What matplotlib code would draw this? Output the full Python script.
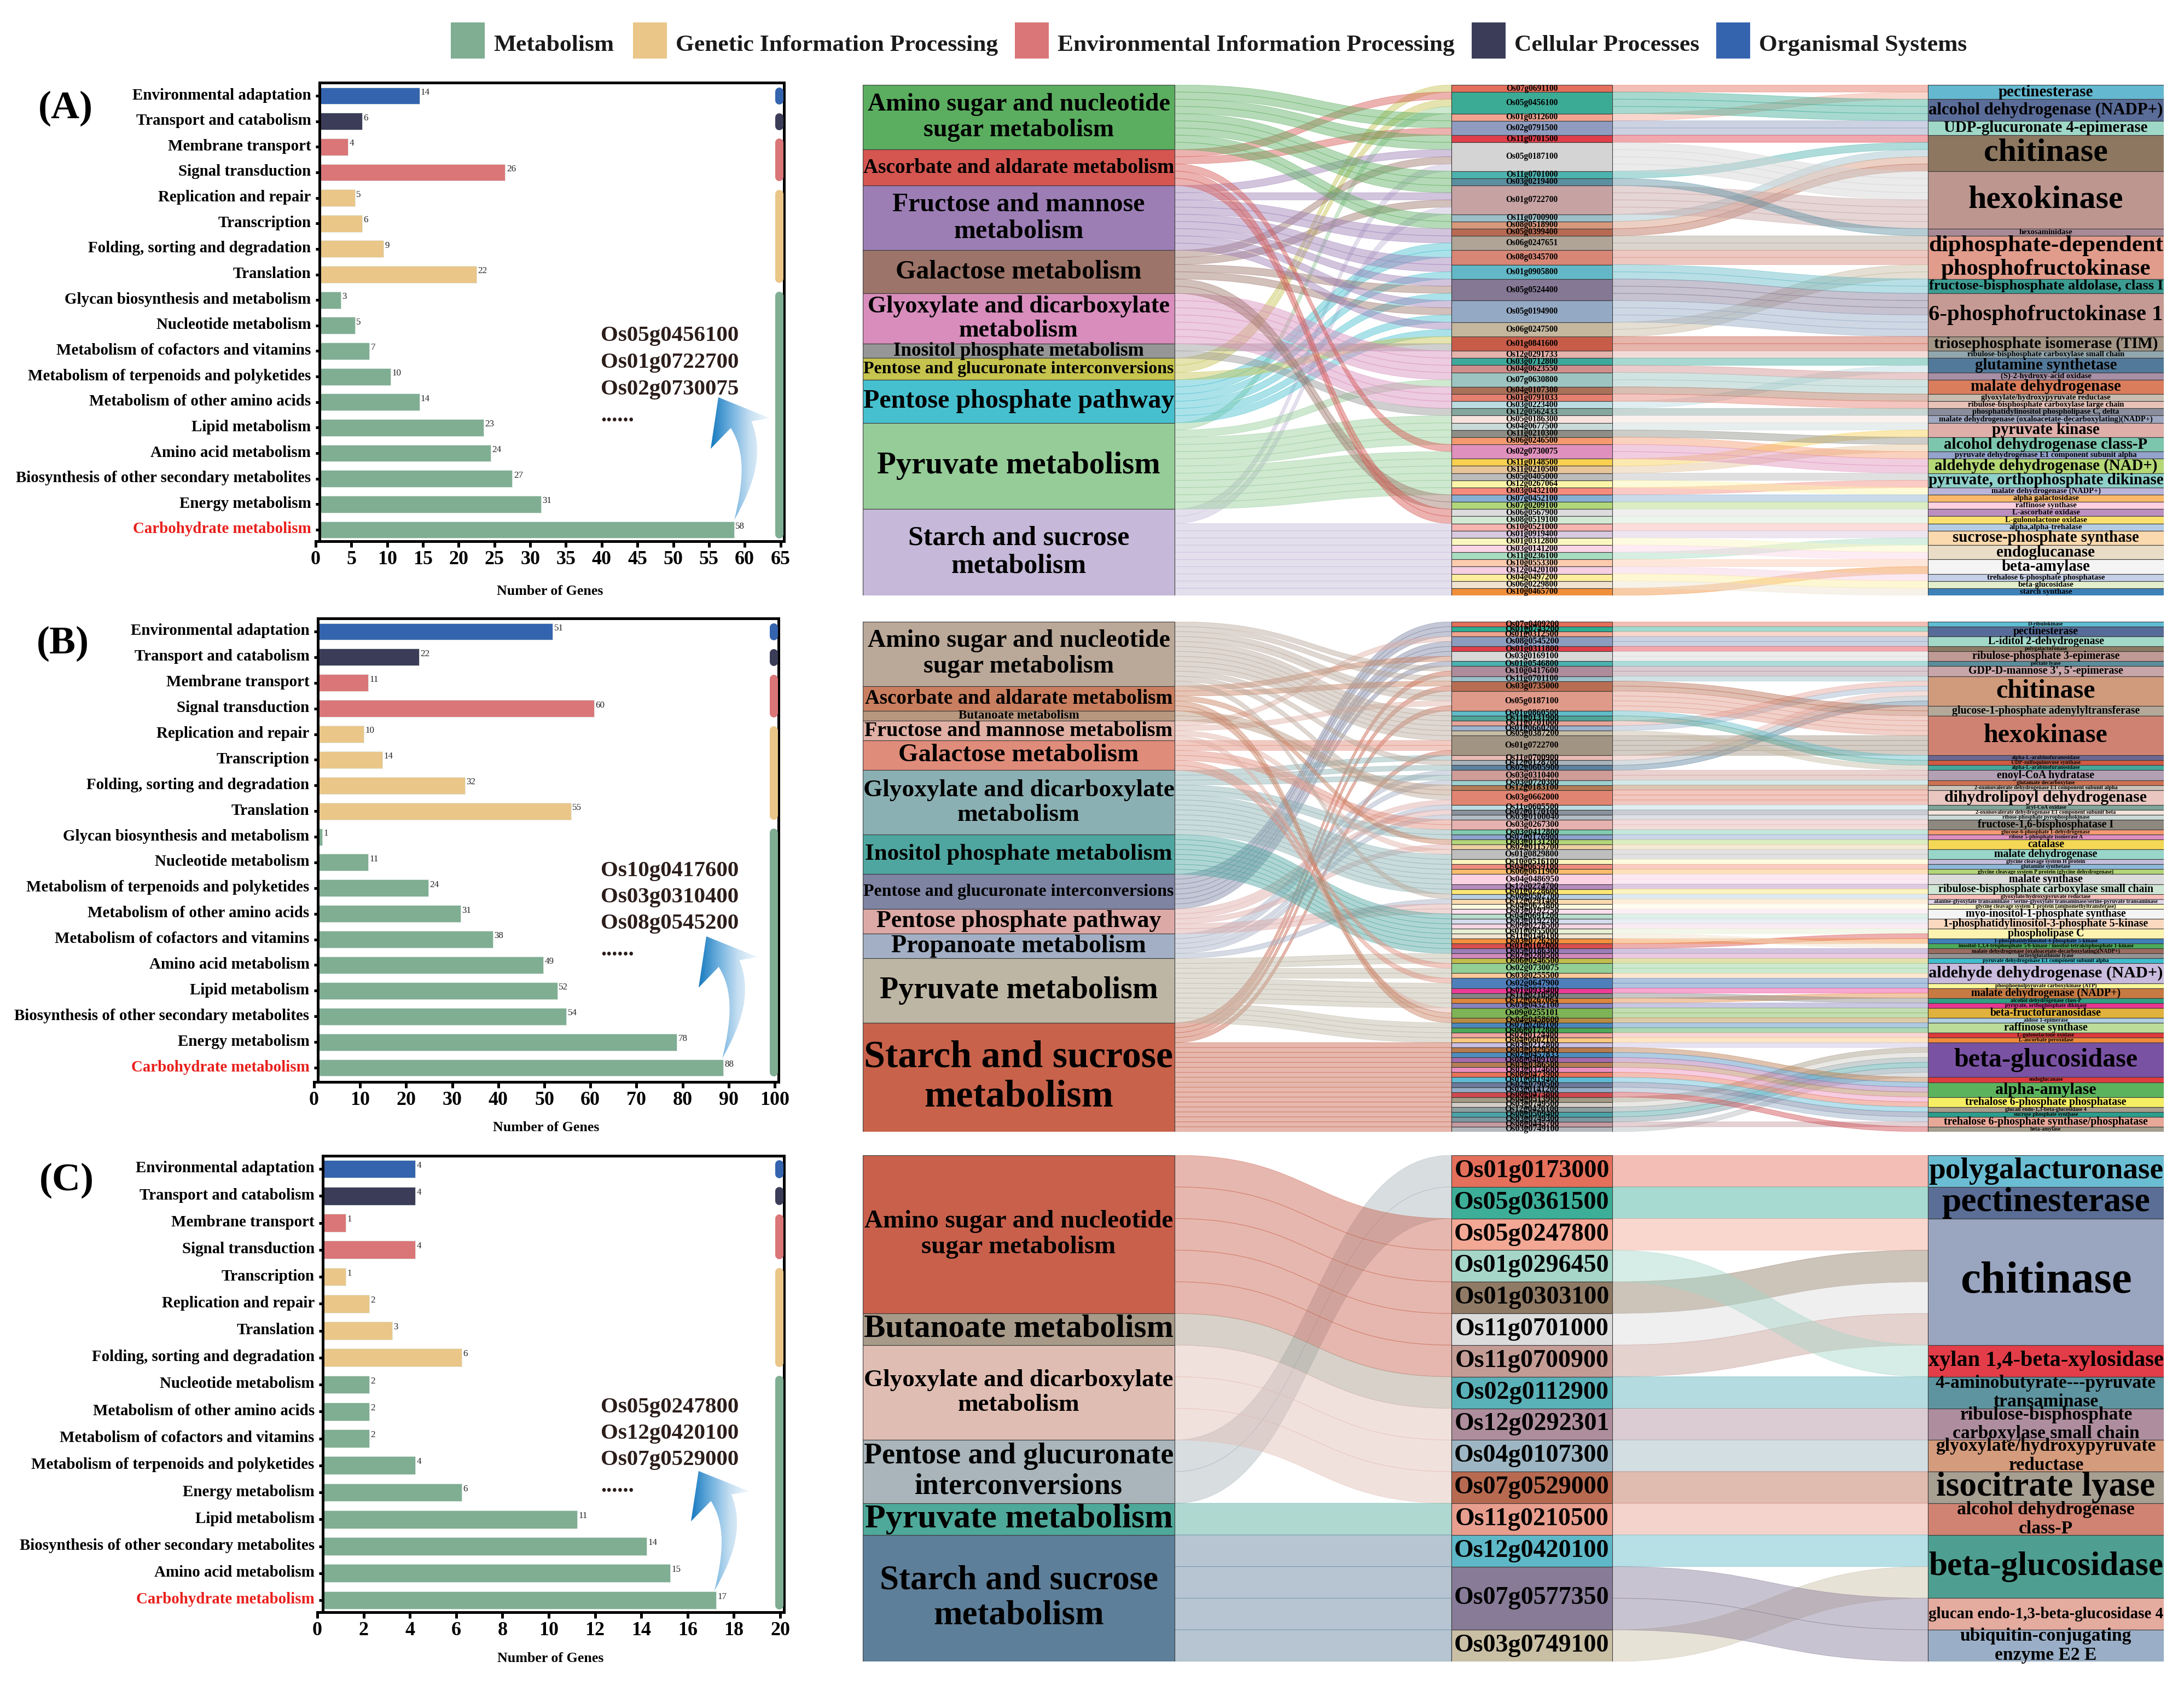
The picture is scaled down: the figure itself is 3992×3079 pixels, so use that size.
import numpy as np
import matplotlib
matplotlib.use("Agg")
import matplotlib.pyplot as plt
from matplotlib.path import Path
from matplotlib.patches import PathPatch, Rectangle
from matplotlib.colors import LinearSegmentedColormap
from matplotlib.transforms import ScaledTranslation

W, H = 3992, 3079
DPI = 100
plt.rcParams['font.family'] = ['Liberation Serif', 'DejaVu Serif']
plt.rcParams['font.weight'] = 'bold'

def pt(px):
    return px * 72 / DPI

# ---- bar chart data, listed top to bottom
CAT_COL = {"M": "#7FAE93", "G": "#EAC688", "E": "#DA7678", "C": "#3B3D58", "O": "#3464AE"}
legend_names = ["Metabolism", "Genetic Information Processing", "Environmental Information Processing",
                "Cellular Processes", "Organismal Systems"]
legend_cols = ["M", "G", "E", "C", "O"]

names_a = ["Environmental adaptation", "Transport and catabolism", "Membrane transport", "Signal transduction",
           "Replication and repair", "Transcription", "Folding, sorting and degradation", "Translation",
           "Glycan biosynthesis and metabolism", "Nucleotide metabolism", "Metabolism of cofactors and vitamins",
           "Metabolism of terpenoids and polyketides", "Metabolism of other amino acids", "Lipid metabolism",
           "Amino acid metabolism", "Biosynthesis of other secondary metabolites", "Energy metabolism",
           "Carbohydrate metabolism"]
vals_a = [14, 6, 4, 26, 5, 6, 9, 22, 3, 5, 7, 10, 14, 23, 24, 27, 31, 58]
cats_a = list("OCEEGGGGMMMMMMMMMM")

names_b = ["Environmental adaptation", "Transport and catabolism", "Membrane transport", "Signal transduction",
           "Replication and repair", "Transcription", "Folding, sorting and degradation", "Translation",
           "Glycan biosynthesis and metabolism", "Nucleotide metabolism", "Metabolism of terpenoids and polyketides",
           "Metabolism of other amino acids", "Metabolism of cofactors and vitamins", "Amino acid metabolism",
           "Lipid metabolism", "Biosynthesis of other secondary metabolites", "Energy metabolism",
           "Carbohydrate metabolism"]
vals_b = [51, 22, 11, 60, 10, 14, 32, 55, 1, 11, 24, 31, 38, 49, 52, 54, 78, 88]
cats_b = list("OCEEGGGGMMMMMMMMMM")

names_c = ["Environmental adaptation", "Transport and catabolism", "Membrane transport", "Signal transduction",
           "Transcription", "Replication and repair", "Translation", "Folding, sorting and degradation",
           "Nucleotide metabolism", "Metabolism of other amino acids", "Metabolism of cofactors and vitamins",
           "Metabolism of terpenoids and polyketides", "Energy metabolism", "Lipid metabolism",
           "Biosynthesis of other secondary metabolites", "Amino acid metabolism", "Carbohydrate metabolism"]
vals_c = [4, 4, 1, 4, 1, 2, 3, 6, 2, 2, 2, 4, 6, 11, 14, 15, 17]
cats_c = list("OCEEGGGGMMMMMMMMM")

hub_a = ["Os05g0456100", "Os01g0722700", "Os02g0730075"]
hub_b = ["Os10g0417600", "Os03g0310400", "Os08g0545200"]
hub_c = ["Os05g0247800", "Os12g0420100", "Os07g0529000"]

# ---- sankey A
left_a = ["Amino sugar and nucleotide\nsugar metabolism", "Ascorbate and aldarate metabolism",
          "Fructose and mannose\nmetabolism", "Galactose metabolism", "Glyoxylate and dicarboxylate\nmetabolism",
          "Inositol phosphate metabolism", "Pentose and glucuronate interconversions", "Pentose phosphate pathway",
          "Pyruvate metabolism", "Starch and sucrose\nmetabolism"]
left_units_a = [9, 5, 9, 6, 7, 2, 3, 6, 12, 12]
left_cols_a = ["#5BAE60", "#D55650", "#9C7EB5", "#9D7469", "#D88DBC", "#969696", "#C6C34E", "#46C0CF", "#95CC98", "#C5B8D8"]
gene_a = ["Os07g0691100", "Os05g0456100", "Os01g0312600", "Os02g0791500", "Os11g0701500", "Os05g0187100", "Os11g0701000",
          "Os03g0219400", "Os01g0722700", "Os11g0700900", "Os08g0518900", "Os05g0399400", "Os06g0247651", "Os08g0345700",
          "Os01g0905800", "Os05g0524400", "Os05g0194900", "Os06g0247500", "Os01g0841600", "Os12g0291733", "Os03g0712800",
          "Os04g0623550", "Os07g0630800", "Os04g0107300", "Os01g0791033", "Os03g0223400", "Os12g0562433", "Os05g0186300",
          "Os04g0677500", "Os11g0210300", "Os06g0246500", "Os02g0730075", "Os11g0148500", "Os11g0210500", "Os05g0405000",
          "Os12g0267064", "Os03g0432100", "Os07g0452100", "Os07g0209100", "Os06g0567900", "Os08g0519100", "Os10g0521000",
          "Os01g0919400", "Os01g0312800", "Os03g0141200", "Os11g0236100", "Os10g0553300", "Os12g0420100", "Os04g0497200",
          "Os06g0229800", "Os10g0465700"]
gene_units_a = [1, 3, 1, 2, 1, 4, 1, 1, 4, 1, 1, 1, 2, 2, 2, 3, 3, 2, 2, 1, 1, 1, 2, 1, 1, 1, 1, 1, 1, 1, 1, 2, 1, 1, 1, 1,
                1, 1, 1, 1, 1, 1, 1, 1, 1, 1, 1, 1, 1, 1, 1]
gene_cols_a = ["#E46F5B", "#3CAB95", "#F2A490", "#8F9CBF", "#DF3F4A", "#D4D4D4", "#4DB3AF", "#5B8FA0", "#C6A2A2", "#9CBFC8",
               "#D8987C", "#B86A52", "#AFA496", "#D88676", "#62B8C6", "#847895", "#94A9C4", "#C4B79E", "#C95C48", "#E4B3AC",
               "#3DA99C", "#D08F8C", "#9DC4C0", "#AA7058", "#E57F6F", "#BADBE0", "#85A89E", "#F7E4DE", "#CADAD8", "#8E8E86",
               "#F59A70", "#E090BC", "#F9D050", "#E6C59A", "#BBBBBB", "#FBF4A8", "#F68C7E", "#88B0D4", "#B2D77A", "#DCDCDC",
               "#D4E9D4", "#F7B4B0", "#D9C9E0", "#FBF7C0", "#FBD6E6", "#A8DCC0", "#FDCBAE", "#F6CFE2", "#FDEE9E", "#EFE3CF",
               "#F18F3B"]
enz_a = ["pectinesterase", "alcohol dehydrogenase (NADP+)", "UDP-glucuronate 4-epimerase", "chitinase", "hexokinase",
         "hexosaminidase", "diphosphate-dependent\nphosphofructokinase", "fructose-bisphosphate aldolase, class I",
         "6-phosphofructokinase 1", "triosephosphate isomerase (TIM)", "ribulose-bisphosphate carboxylase small chain",
         "glutamine synthetase", "(S)-2-hydroxy-acid oxidase", "malate dehydrogenase", "glyoxylate/hydroxypyruvate reductase",
         "ribulose-bisphosphate carboxylase large chain", "phosphatidylinositol phospholipase C, delta",
         "malate dehydrogenase (oxaloacetate-decarboxylating)(NADP+)", "pyruvate kinase", "alcohol dehydrogenase class-P",
         "pyruvate dehydrogenase E1 component subunit alpha", "aldehyde dehydrogenase (NAD+)", "pyruvate, orthophosphate dikinase",
         "malate dehydrogenase (NADP+)", "alpha galactosidase", "raffinose synthase", "L-ascorbate oxidase",
         "L-gulonolactone oxidase", "alpha,alpha-trehalase", "sucrose-phosphate synthase", "endoglucanase", "beta-amylase",
         "trehalose 6-phosphate phosphatase", "beta-glucosidase", "starch synthase"]
enz_units_a = [2, 3, 2, 5, 8, 1, 6, 2, 6, 2, 1, 2, 1, 2, 1, 1, 1, 1, 2, 2, 1, 2, 2, 1, 1, 1, 1, 1, 1, 2, 2, 2, 1, 1, 1]
enz_cols_a = ["#64B8D0", "#5A6C98", "#A0D8C8", "#8D7760", "#BE9690", "#A88A96", "#E19C8C", "#3C9C92", "#C69A94", "#A39585",
              "#91A7AD", "#53799A", "#A88FA5", "#D97D5C", "#C9BDB0", "#E8C2B8", "#8A8E9C", "#9FA8C0", "#DFAFAA", "#7DC6AE",
              "#94A3CC", "#B5D877", "#8FD0C9", "#BBB5DA", "#F8B96A", "#FBD0DF", "#BC8FC0", "#FBE270", "#B5CCE4", "#FBD9AE",
              "#EADDC8", "#F4F4F4", "#C5D0E8", "#E3EFCC", "#3E82B8"]
# pathway of each gene unit, from the top of the middle column down
path_a = [6, 1, 6, 8, 0, 0, 1, 0, 0, 2, 3, 9, 0, 0, 0, 2, 3, 9, 0, 0, 2, 2, 7, 7, 2, 2, 7, 2, 3, 7, 2, 3, 7, 2, 7, 6, 5,
          4, 4, 4, 4, 8, 4, 4, 4, 5, 8, 8, 8, 8, 1, 8, 8, 8, 8, 8, 8, 3, 3, 1, 1, 9, 9, 9, 9, 9, 9, 9, 9, 9, 9]
# gene units in the order they enter the enzyme column
order_a = [0, 4, 1, 2, 3, 5, 6, 7, 12, 18, 19, 20, 8, 9, 10, 11, 14, 15, 16, 17, 13, 21, 22, 23, 24, 33, 34, 25, 26, 27, 28,
           29, 30, 31, 32, 35, 36, 37, 38, 44, 39, 40, 41, 42, 43, 45, 46, 47, 52, 48, 53, 49, 50, 51, 54, 56, 55, 57, 58,
           59, 60, 61, 62, 65, 63, 64, 66, 70, 67, 68, 69]

# ---- sankey B
left_b = ["Amino sugar and nucleotide\nsugar metabolism", "Ascorbate and aldarate metabolism", "Butanoate metabolism",
          "Fructose and mannose metabolism", "Galactose metabolism", "Glyoxylate and dicarboxylate\nmetabolism",
          "Inositol phosphate metabolism", "Pentose and glucuronate interconversions", "Pentose phosphate pathway",
          "Propanoate metabolism", "Pyruvate metabolism", "Starch and sucrose\nmetabolism"]
left_units_b = [13, 5, 2, 4, 6, 13, 8, 7, 5, 5, 13, 22]
left_cols_b = ["#BAA899", "#C97F5F", "#B8977F", "#E0B0A5", "#E08C7A", "#8BB0B3", "#4FA6A0", "#7E84A2", "#DDA9A6", "#A3AFC4",
               "#BEB6A4", "#C8624A"]
gene_b = ["Os07g0409200", "Os01g0743200", "Os01g0312500", "Os08g0545200", "Os01g0311800", "Os03g0169100", "Os01g0546800",
          "Os10g0417600", "Os11g0701100", "Os03g0735000", "Os05g0187100", "Os01g0860500", "Os11g0131900", "Os11g0701000",
          "Os01g0660200", "Os05g0387200", "Os01g0722700", "Os11g0700900", "Os12g0128700", "Os02g0605900", "Os03g0310400",
          "Os03g0720300", "Os12g0183100", "Os03g0662000", "Os11g0605500", "Os07g0170100", "Os03g0100040", "Os03g0267300",
          "Os03g0412800", "Os07g0176900", "Os03g0131200", "Os02g0115700", "Os01g0829800", "Os10g0516100", "Os04g0659100",
          "Os06g0611900", "Os04g0486950", "Os12g0274700", "Os01g0228600", "Os08g0502700", "Os12g0291400", "Os04g0623800",
          "Os03g0192750", "Os04g0691200", "Os03g0192700", "Os09g0278500", "Os01g0955000", "Os11g0146100", "Os03g0726200",
          "Os01g0102000", "Os05g0186300", "Os02g0280500", "Os06g0246500", "Os02g0730075", "Os03g0255500", "Os02g0647900",
          "Os01g0933400", "Os11g0210500", "Os12g0267064", "Os03g0432100", "Os09g0255101", "Os04g0458600", "Os07g0209100",
          "Os06g0172800", "Os02g0124400", "Os04g0602100", "Os03g0212800", "Os03g0329500", "Os02g0457833", "Os08g0409100",
          "Os03g0386500", "Os03g0374600", "Os08g0473900", "Os01g0919400", "Os02g0790500", "Os03g0141200", "Os08g0473800",
          "Os04g0513900", "Os03g0749500", "Os12g0420100", "Os08g0509400", "Os03g0749300", "Os08g0445700", "Os03g0749100"]
gene_units_b = [1, 1, 1, 2, 1, 2, 1, 2, 1, 2, 4, 1, 1, 1, 1, 1, 4, 1, 1, 1, 2, 1, 1, 3, 1, 1, 1, 2, 1, 1, 1, 1, 2, 1, 1, 1,
                2, 1, 1, 1, 1, 1, 1, 1, 1, 1, 1, 1, 1, 1, 1, 1, 1, 2, 1, 2, 1, 1, 1, 1, 2, 1, 1, 1, 1, 1, 1, 1, 1, 1, 1, 1,
                1, 1, 1, 1, 1, 1, 1, 1, 1, 1, 1, 1]
gene_cols_b = ["#E4705C", "#2FAE94", "#F0A48E", "#8D9DBF", "#E0404A", "#D8D8D8", "#4AB2B0", "#AE8C9B", "#9ABFC9", "#B86E53",
               "#E09A8A", "#5FBCC8", "#4FA598", "#E5A49A", "#9FB4CC", "#C7BCA5", "#A29482", "#E7BAB2", "#A7B4BC", "#5E83A0",
               "#CF9C98", "#9ECFCF", "#B47C58", "#E28472", "#BCDDE3", "#8B929E", "#B5BCC5", "#E6B2B0", "#80CBB0", "#8EA3CD",
               "#B3D67B", "#EDCFA2", "#BEBEBE", "#FBF6BE", "#F08E7E", "#F9BD6C", "#FAD2E4", "#B58CBD", "#FBE675", "#B9CFE4",
               "#FADAB0", "#FDFBE0", "#FAE0EC", "#B8DECC", "#D5DBEC", "#F5D5E4", "#E6EFD2", "#F2E4D0", "#F29040", "#D9504E",
               "#9B7EB8", "#D28ABD", "#C2BE4E", "#92CF95", "#FDC99A", "#4F7FBA", "#EE3C96", "#868686", "#E0853E", "#8984BD",
               "#7EB356", "#B68B42", "#4C88BE", "#4FA858", "#F0A6A0", "#FBC87F", "#CBBFE0", "#B87B4E", "#4F8FC0", "#A56BAA",
               "#B57E55", "#EC8FBE", "#E8735A", "#5FBBD3", "#6C7A9E", "#95ABC5", "#CF4A50", "#A59A84", "#D2CEC6", "#8F9FA0",
               "#4AA3A6", "#7E98A2", "#C49AA0", "#B5B8BC"]
enz_b = ["D-ribulokinase", "pectinesterase", "L-iditol 2-dehydrogenase", "polygalacturonase", "ribulose-phosphate 3-epimerase",
         "pectate lyase", "GDP-D-mannose 3', 5'-epimerase", "chitinase", "glucose-1-phosphate adenylyltransferase", "hexokinase",
         "alpha-L-arabinofuranosidase", "UDP-sulfoquinovose synthase", "alpha-L-arabinofuranosidase", "enoyl-CoA hydratase",
         "glutamate decarboxylase", "2-oxoisovalerate dehydrogenase E1 component subunit alpha", "dihydrolipoyl dehydrogenase",
         "acyl-CoA oxidase", "2-oxoisovalerate dehydrogenase E1 component subunit beta", "ribose-phosphate pyrophosphokinase",
         "fructose-1,6-bisphosphatase I", "glucose-6-phosphate 1-dehydrogenase", "ribose 5-phosphate isomerase A", "catalase",
         "malate dehydrogenase", "glycine cleavage system H protein", "glutamine synthetase",
         "glycine cleavage system P protein (glycine dehydrogenase)", "malate synthase",
         "ribulose-bisphosphate carboxylase small chain", "glyoxylate/hydroxypyruvate reductase",
         "alanine-glyoxylate transaminase / serine-glyoxylate transaminase/serine-pyruvate transaminase",
         "glycine cleavage system T protein (aminomethyltransferase)", "myo-inositol-1-phosphate synthase",
         "1-phosphatidylinositol-3-phosphate 5-kinase", "phospholipase C", "1-phosphatidylinositol-4-phosphate 5-kinase",
         "inositol-1,3,4-trisphosphate 5/6-kinase / inositol-tetrakisphosphate 1-kinase",
         "malate dehydrogenase (oxaloacetate-decarboxylating)(NADP+)", "lactoylglutathione lyase",
         "pyruvate dehydrogenase E1 component subunit alpha", "aldehyde dehydrogenase (NAD+)",
         "phosphoenolpyruvate carboxykinase (ATP)", "malate dehydrogenase (NADP+)", "alcohol dehydrogenase class-P",
         "pyruvate, orthophosphate dikinase", "beta-fructofuranosidase", "aldose 1-epimerase", "raffinose synthase",
         "L-gulonolactone oxidase", "L-ascorbate peroxidase", "beta-glucosidase", "endoglucanase", "alpha-amylase",
         "trehalose 6-phosphate phosphatase", "glucan endo-1,3-beta-glucosidase 4", "sucrose phosphate synthase",
         "trehalose 6-phosphate synthase/phosphatase", "beta-amylase"]
enz_units_b = [1, 2, 2, 1, 2, 1, 2, 6, 2, 8, 1, 1, 1, 2, 1, 1, 3, 1, 1, 1, 2, 1, 1, 2, 2, 1, 1, 1, 2, 2, 1, 1, 1, 2, 2, 2, 1,
               1, 1, 1, 1, 4, 1, 2, 1, 1, 2, 1, 2, 1, 1, 7, 1, 3, 2, 1, 1, 2, 1]
enz_cols_b = ["#5FBDD3", "#566B97", "#A3D9C8", "#8D7A62", "#C09A95", "#5A8E9C", "#C7A5A8", "#D09A7C", "#B4A898", "#D08272",
              "#6B6892", "#CF5A45", "#45A89C", "#B3A0B4", "#CE7252", "#CCC3B8", "#E9C7C0", "#7FA49A", "#F3E5DC", "#CBDAD8",
              "#8D8980", "#F59A72", "#DE8FBF", "#F4D755", "#97D6C9", "#C4BEDC", "#8EB8D8", "#B3D679", "#DCDCDC", "#CFE6D4",
              "#FAC0BA", "#E0D4E6", "#FBF8C6", "#F4F4F4", "#FBD9C0", "#FDF3B0", "#3F80B8", "#4CAB5A", "#9B6C60", "#949494",
              "#3FBECF", "#C8BBDD", "#FBF59C", "#C77A42", "#2FA184", "#E8368F", "#E0B23D", "#B0D0E2", "#BCDD9A", "#DE3B3B",
              "#F08A3C", "#7A52A3", "#E03B3E", "#5CB35D", "#F5EE63", "#A89E8E", "#2B9E8C", "#E8A898", "#A59E8E"]
path_b = [7, 7, 7, 3, 7, 7, 7, 1, 7, 0, 11, 0, 1, 11, 0, 0, 3, 11, 0, 0, 0, 0, 0, 0, 4, 4, 11, 5, 0, 5, 9, 5, 9, 2, 2, 0, 8,
          9, 8, 9, 4, 4, 5, 5, 1, 8, 3, 5, 5, 5, 5, 5, 5, 5, 5, 0, 9, 8, 8, 6, 6, 6, 6, 6, 6, 6, 6, 10, 10, 4, 10, 10, 4, 10,
          10, 10, 10, 10, 3, 1, 1, 10, 10, 10, 10, 11, 11, 11, 11, 11, 11, 11, 11, 11, 11, 11, 11, 11, 11, 11, 11, 11, 11]
order_b = [0, 1, 2, 3, 4, 5, 6, 7, 8, 9, 10, 11, 20, 21, 27, 28, 29, 12, 13, 14, 15, 16, 17, 23, 24, 25, 26, 18, 19, 22, 30,
           31, 32, 33, 34, 35, 36, 37, 38, 39, 40, 41, 42, 43, 44, 45, 46, 47, 48, 49, 50, 51, 52, 53, 54, 55, 56, 57, 58,
           59, 60, 61, 62, 65, 64, 63, 66, 67, 68, 69, 70, 71, 72, 73, 74, 76, 75, 77, 78, 79, 80, 81, 82, 83, 84, 85, 96,
           97, 98, 99, 100, 102, 86, 87, 88, 89, 90, 91, 92, 93, 94, 101, 95]

# ---- sankey C
left_c = ["Amino sugar and nucleotide\nsugar metabolism", "Butanoate metabolism", "Glyoxylate and dicarboxylate\nmetabolism",
          "Pentose and glucuronate\ninterconversions", "Pyruvate metabolism", "Starch and sucrose\nmetabolism"]
left_units_c = [5, 1, 3, 2, 1, 4]
left_cols_c = ["#C8604C", "#A89A88", "#E0BDB2", "#A9B5BB", "#4FA99A", "#5E7F9A"]
gene_c = ["Os01g0173000", "Os05g0361500", "Os05g0247800", "Os01g0296450", "Os01g0303100", "Os11g0701000", "Os11g0700900",
          "Os02g0112900", "Os12g0292301", "Os04g0107300", "Os07g0529000", "Os11g0210500", "Os12g0420100", "Os07g0577350",
          "Os03g0749100"]
gene_units_c = [1, 1, 1, 1, 1, 1, 1, 1, 1, 1, 1, 1, 1, 2, 1]
gene_cols_c = ["#E46F5B", "#3DAE98", "#F2A894", "#A6D6C8", "#8F7A65", "#DCDCDC", "#C49C96", "#5AB1B8", "#AE8E9C", "#9EB6C3",
               "#B86A50", "#E89E8E", "#5FB8C8", "#877B97", "#C9BFA5"]
enz_c = ["polygalacturonase", "pectinesterase", "chitinase", "xylan 1,4-beta-xylosidase",
         "4-aminobutyrate---pyruvate\ntransaminase", "ribulose-bisphosphate\ncarboxylase small chain",
         "glyoxylate/hydroxypyruvate\nreductase", "isocitrate lyase", "alcohol dehydrogenase\nclass-P", "beta-glucosidase",
         "glucan endo-1,3-beta-glucosidase 4", "ubiquitin-conjugating\nenzyme E2 E"]
enz_units_c = [1, 1, 4, 1, 1, 1, 1, 1, 1, 2, 1, 1]
enz_cols_c = ["#6BBDD3", "#5A6E96", "#9AA5C0", "#E23D48", "#5E94A0", "#AE8E9E", "#D49B7C", "#A79F92", "#D08372", "#4E9F91",
              "#E4AB9F", "#9AAFC7"]
path_c = [3, 3, 0, 0, 0, 0, 0, 1, 2, 2, 2, 4, 5, 5, 5, 5]
order_c = [0, 1, 2, 4, 5, 6, 3, 7, 8, 9, 10, 11, 12, 15, 13, 14]

# ---- layout, in pixels of the full picture
X_LEFT, X_RIGHT = 1577, 3955
COL_L = (1577, 2147)
COL_M = (2653, 2947)
COL_R = (3524, 3955)
left_caps_a = [46, 38, 48, 48, 44, 35, 32, 48, 57, 50]
left_caps_b = [46, 37, 23, 38, 47, 46, 43, 32, 44, 46, 56, 70]
left_caps_c = [47, 59, 45, 54, 62, 63]

fig = plt.figure(figsize=(W / DPI, H / DPI), dpi=DPI, facecolor="white")
renderer = fig.canvas.get_renderer()


def add_px_axes(x0, y0, x1, y1):
    return fig.add_axes([x0 / W, 1 - y1 / H, (x1 - x0) / W, (y1 - y0) / H])


def fit_label(ax, x, y, label, size_px, max_w):
    t = ax.text(x, y, label, ha="center", va="center", fontsize=pt(size_px), color="black", zorder=5,
                linespacing=1.15, fontweight="bold")
    w = t.get_window_extent(renderer).width
    if w > max_w:
        t.set_fontsize(pt(size_px) * max_w / w)
    return t


def ribbon(ax, x0, x1, y0, y1, col):
    xm = (x0 + x1) / 2
    verts = [(x0, y0), (xm, y0), (xm, y1), (x1, y1), (x1, y1 + 1), (xm, y1 + 1), (xm, y0 + 1), (x0, y0 + 1), (x0, y0)]
    codes = [Path.MOVETO, Path.CURVE4, Path.CURVE4, Path.CURVE4, Path.LINETO, Path.CURVE4, Path.CURVE4, Path.CURVE4,
             Path.CLOSEPOLY]
    ax.add_patch(PathPatch(Path(verts, codes), fc=col, ec=col, lw=0.7, alpha=0.45, zorder=1))


def sankey(y0, y1, lefts, left_units, left_cols, left_caps, genes, gene_units, gene_cols, enz, enz_units, enz_cols,
           path, order, gene_px, enz_cap):
    ax = add_px_axes(X_LEFT, y0, X_RIGHT, y1)
    total = sum(gene_units)
    ax.set_xlim(X_LEFT, X_RIGHT)
    ax.set_ylim(total, 0)
    ax.axis("off")
    unit_px = (y1 - y0) / total

    unit_col = []
    for col, n in zip(gene_cols, gene_units):
        unit_col += [col] * n

    # stack the flows on each side
    starts = np.concatenate([[0], np.cumsum(left_units)[:-1]])
    pos = list(starts)
    for u, p in enumerate(path):
        ribbon(ax, COL_L[1], COL_M[0], pos[p], u, left_cols[p])
        pos[p] += 1
    for r, u in enumerate(order):
        ribbon(ax, COL_M[1], COL_R[0], u, r, unit_col[u])

    # node columns
    for col_x, units, cols in ((COL_L, left_units, left_cols), (COL_M, gene_units, gene_cols), (COL_R, enz_units, enz_cols)):
        bottoms = np.concatenate([[0], np.cumsum(units)[:-1]])
        ax.bar([col_x[0]] * len(units), units, width=col_x[1] - col_x[0], bottom=bottoms, align="edge", color=cols,
               edgecolor="#3a3a3a", linewidth=0.8, zorder=3)

    xc = sum(COL_L) / 2
    for name, n, b, cap in zip(lefts, left_units, starts, left_caps):
        fit_label(ax, xc, b + n / 2, name, cap, COL_L[1] - COL_L[0] - 2)
    xc = sum(COL_M) / 2
    b = 0
    for name, n in zip(genes, gene_units):
        fit_label(ax, xc, b + n / 2, name, gene_px, 294)
        b += n
    xc = sum(COL_R) / 2
    b = 0
    for name, n in zip(enz, enz_units):
        lines = name.count("\n") + 1
        size = min(n * unit_px * (1.1 if lines == 1 else 0.58), enz_cap)
        fit_label(ax, xc, b + n / 2, name, size, COL_R[1] - COL_R[0] - 2)
        b += n
    return ax


def bars(box, tick0, px_per_unit, off, step, y_first, y_last, names, vals, cats, xlabel_y, x_max_tick):
    x1 = box[2]
    y0, y1 = box[1], box[3]
    ax = add_px_axes(tick0, y0, x1, y1)
    xmax = (x1 - tick0) / px_per_unit
    n = len(names)
    spacing = (y_last - y_first) / (n - 1)
    ax.set_xlim(0, xmax)
    ax.set_ylim(-(y1 - y_last) / spacing, n - 1 + (y_first - y0) / spacing)
    ys = np.arange(n)[::-1]
    ax.barh(ys, vals, left=off, height=0.66, color=[CAT_COL[c] for c in cats], edgecolor="#dfe8e2", linewidth=0.6, zorder=2)
    for y, v in zip(ys, vals):
        ax.text(off + v + 2.5 / px_per_unit, y + 0.13, str(v), fontsize=pt(17), fontweight="normal", va="center", ha="left",
                color="#222222")

    # category strip on the right edge
    strip_x = xmax - 9 / px_per_unit
    cap = 7.5 / spacing
    seen = []
    for c in cats:
        if c not in seen:
            seen.append(c)
    for c in seen:
        idx = [i for i, k in enumerate(cats) if k == c]
        hi, lo = ys[idx[0]] + 0.33 - cap, ys[idx[-1]] - 0.33 + cap
        ax.plot([strip_x, strip_x], [lo, hi], color=CAT_COL[c], lw=pt(15), solid_capstyle="round", zorder=3)

    for s in ax.spines.values():
        s.set_linewidth(pt(5))
    ax.spines["left"].set_position(("data", off))
    ax.spines["top"].set_bounds(off, xmax)
    ax.set_yticks(ys)
    ax.set_yticklabels(names, fontsize=pt(29))
    ax.get_yticklabels()[-1].set_color("#E8201C")
    ax.set_xticks(np.arange(0, x_max_tick + 1, step))
    ax.tick_params(axis="x", length=8, width=pt(5), labelsize=pt(36), pad=4)
    ax.tick_params(axis="y", length=5, width=pt(5), pad=6)
    # labels sit a little above their tick marks
    lift = ScaledTranslation(0, 4 / DPI, fig.dpi_scale_trans)
    for lab in ax.get_yticklabels():
        lab.set_transform(lab.get_transform() + lift)
    ax.set_xlabel("Number of Genes", fontsize=pt(26), fontweight="bold")
    ax.xaxis.set_label_coords(0.5, -(xlabel_y - y1) / (y1 - y0))
    return ax


bars((584, 151, 1433, 989), 577, 13.07, 0.5, 5, 175, 968, names_a, vals_a, cats_a, 1069, 65)
bars((581, 1130, 1423, 1977), 574, 8.42, 0.8, 10, 1154, 1951, names_b, vals_b, cats_b, 2049, 100)
bars((590, 2112, 1433, 2946), 580, 42.3, 0.24, 2, 2136, 2924, names_c, vals_c, cats_c, 3019, 20)

sankey(155, 1088, left_a, left_units_a, left_cols_a, left_caps_a, gene_a, gene_units_a, gene_cols_a, enz_a, enz_units_a,
       enz_cols_a, path_a, order_a, 15.5, 60)
sankey(1136, 2068, left_b, left_units_b, left_cols_b, left_caps_b, gene_b, gene_units_b, gene_cols_b, enz_b, enz_units_b,
       enz_cols_b, path_b, order_b, 16, 48)
sankey(2111, 3036, left_c, left_units_c, left_cols_c, left_caps_c, gene_c, gene_units_c, gene_cols_c, enz_c, enz_units_c,
       enz_cols_c, path_c, order_c, 46, 83)

# ---- overlay: legend, panel letters, hub genes and arrows
top = fig.add_axes([0, 0, 1, 1], zorder=10)
top.patch.set_alpha(0)
top.axis("off")

swatch_x = [824, 1157, 1855, 2690, 3137]
for x, name, c in zip(swatch_x, legend_names, legend_cols):
    top.add_patch(Rectangle((x, 41), 62, 66, fc=CAT_COL[c], ec="none"))
    top.text(x + 78, 83, name, fontsize=pt(43.5), va="center", ha="left", color="#1a1a1a")

for label, x, y in (("(A)", 120, 198), ("(B)", 115, 1176), ("(C)", 122, 2157)):
    top.text(x, y, label, fontsize=pt(72), ha="center", va="center", color="black")

hub_cm = LinearSegmentedColormap.from_list("hub", ["#177ABF", "#6FB0DE", "#C5DFF2", "#F4F9FD"])
arrow_shape = [(0.13, 0), (1, 0.17), (0.69, 0.195), (0.9, 0.45), (0.75, 0.7), (0.40, 1), (0.55, 0.7), (0.6, 0.45),
               (0.34, 0.25), (0, 0.42), (0.13, 0)]
arrow_codes = [Path.MOVETO, Path.LINETO, Path.LINETO, Path.CURVE4, Path.CURVE4, Path.CURVE4, Path.CURVE4, Path.CURVE4,
               Path.CURVE4, Path.LINETO, Path.CLOSEPOLY]
grad = np.linspace(0, 1, 128).reshape(1, -1)
for hubs, tx, ty, dy, dots_y, box in ((hub_a, 1098, 614, 48.5, 769, (1299, 726, 1407, 950)),
                                      (hub_b, 1098, 1591, 48, 1745, (1277, 1711, 1385, 1934)),
                                      (hub_c, 1098, 2571, 48, 2725, (1263, 2688, 1370, 2907))):
    for i, h in enumerate(hubs):
        top.text(tx, ty + i * dy, h, fontsize=pt(41), va="center", ha="left", color="#2b1d1a")
    top.text(tx, dots_y - 8, "......", fontsize=pt(41), va="center", ha="left", color="#2b1d1a")
    x0, y0, x1, y1 = box
    verts = [(x0 + u * (x1 - x0), y0 + v * (y1 - y0)) for u, v in arrow_shape]
    patch = PathPatch(Path(verts, arrow_codes), fc="none", ec="none")
    top.add_patch(patch)
    im = top.imshow(grad, cmap=hub_cm, extent=(x0, x1, y1, y0), aspect="auto", zorder=4)
    im.set_clip_path(patch)
top.set_xlim(0, W)
top.set_ylim(H, 0)

fig.savefig("out.png", dpi=DPI, facecolor="white")
